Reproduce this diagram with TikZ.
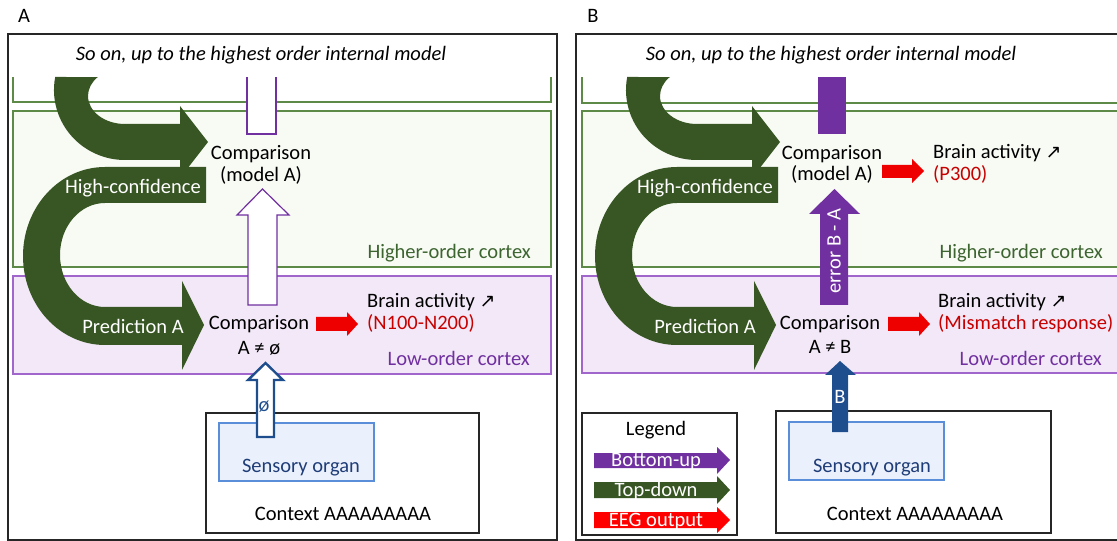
\documentclass[tikz,border=0pt]{standalone}
\usepackage{fontspec}
\setmainfont{Carlito}
\newfontfamily\symfont{DejaVu Sans}
\definecolor{dkgreen}{HTML}{375623}
\definecolor{boxgreen}{HTML}{5E8A47}
\definecolor{higherfill}{HTML}{F8FAF4}
\definecolor{lowfill}{HTML}{F2E8F7}
\definecolor{lowline}{HTML}{A066CC}
\definecolor{purp}{HTML}{7030A0}
\definecolor{txtgreen}{HTML}{3D6530}
\definecolor{arrred}{HTML}{EE0000}
\definecolor{legred}{HTML}{FF0000}
\definecolor{txtred}{HTML}{C80000}
\definecolor{blu}{HTML}{1F4E8F}
\definecolor{sensfill}{HTML}{EBF1FC}
\definecolor{sensline}{HTML}{5B8ED8}
\definecolor{senstxt}{HTML}{1F3D78}
\newcommand\myfs{\fontsize{20.5bp}{24bp}\selectfont}
\newcommand\uparr{{\symfont\fontsize{19bp}{19bp}\selectfont ↗}}
\begin{document}
\begin{tikzpicture}[x=1bp,y=-1bp,
  txt/.style={font=\myfs, inner sep=0pt, text=black},
  wtxt/.style={font=\myfs, inner sep=0pt, text=white},
  outerbox/.style={draw=black!85, line width=1.2bp},
  greenbox/.style={draw=boxgreen, line width=1.2bp},
  lowbox/.style={draw=lowline, fill=lowfill, line width=1.2bp},
  blackbox/.style={draw=black!85, line width=1.2bp, fill=white},
  sensbox/.style={draw=sensline, fill=sensfill, line width=1.2bp},
  hollowpurp/.style={draw=purp, fill=white, line width=1.2bp},
  hollowblue/.style={draw=blu, fill=white, line width=2.4bp, line join=miter},
]
\useasboundingbox (0,0) rectangle (1117,541);
\clip (0,0) rectangle (1117,541);

% ================= PANEL A =================
\node[txt, anchor=base] (labA) at (24,23) {A};
\draw[outerbox] (8,34) rectangle (557,540);
\node[txt, anchor=base, font=\myfs\itshape] (soA) at (261,61) {So on, up to the highest order internal model};
\draw[greenbox] (13,77) -- (13,102) -- (551,102) -- (551,77);
\draw[greenbox, fill=higherfill] (13,111) rectangle (551,267);
\draw[lowbox] (13,276) rectangle (551,374);

% green curved arrows
\fill[dkgreen] (55.2,77) arc[start angle=190.7, end angle=90, x radius=71, y radius=70]
  -- (180,160) -- (180,178) -- (208,142) -- (180,106) -- (180,124) -- (125,124)
  arc[start angle=90, end angle=222.7, x radius=37, y radius=28] -- cycle;
\fill[dkgreen] (206,167) -- (105,167) arc[start angle=270, end angle=90, x radius=82, y radius=89]
  -- (182,345) -- (182,370) -- (204,325) -- (182,281) -- (182,307) -- (105,307)
  arc[start angle=90, end angle=270, x radius=45, y radius=52] -- (206,203) -- cycle;

% purple hollow bars / arrow
\draw[hollowpurp] (247,77) -- (247,134) -- (276,134) -- (276,77);
\draw[hollowpurp] (248,305) -- (248,215) -- (237,215) -- (262.5,189) -- (289,215) -- (277,215) -- (277,305) -- cycle;

% red arrow
\fill[arrred] (316,317) -- (347,317) -- (347,312) -- (358,324) -- (347,336) -- (347,331) -- (316,331) -- cycle;

% context / sensory
\draw[blackbox] (206,413) rectangle (479,533);
\draw[sensbox] (219,423) rectangle (374,481);
\draw[hollowblue] (257,437) -- (257,380) -- (248,380) -- (265.5,363) -- (283,380) -- (274,380) -- (274,437) -- cycle;

% texts A
\node[txt, anchor=base] (cmpHA) at (261,159.5) {Comparison};
\node[txt, anchor=base] (modHA) at (261,182) {(model A)};
\node[wtxt, anchor=base] (hcA) at (133,193.5) {High-confidence};
\node[txt, anchor=base east, text=txtgreen] (hoA) at (531,258.5) {Higher-order cortex};
\node[wtxt, anchor=base] (prA) at (133,333.5) {Prediction A};
\node[txt, anchor=base] (cmpLA) at (259,329.5) {Comparison};
\node[txt, anchor=base] (neqA) at (259,354.5) {A ≠ ø};
\node[txt, anchor=base west] (baA) at (367,307.5) {Brain activity \uparr};
\node[txt, anchor=base west, text=txtred] (nA) at (367,330) {(N100-N200)};
\node[txt, anchor=base east, text=purp] (loA) at (530,365.5) {Low-order cortex};
\node[txt, anchor=base, text=blu] (phiA) at (264,411) {ø};
\node[txt, anchor=base, text=senstxt] (sensA) at (301,472) {Sensory organ};
\node[txt, anchor=base] (ctxA) at (343,520.5) {Context AAAAAAAAA};

% ================= PANEL B =================
\node[txt, anchor=base] (labB) at (593,23) {B};
\draw[outerbox] (576,34) rectangle (1125,540);
\node[txt, anchor=base, font=\myfs\itshape] (soB) at (831,61) {So on, up to the highest order internal model};
\draw[greenbox] (582,77) -- (582,103) -- (1120,103) -- (1120,77);
\draw[greenbox, fill=higherfill] (582,111) rectangle (1120,267);
\draw[lowbox] (582,276) rectangle (1120,373);

\begin{scope}[xshift=572bp]
\fill[dkgreen] (55.2,77) arc[start angle=190.7, end angle=90, x radius=71, y radius=70]
  -- (180,160) -- (180,178) -- (208,142) -- (180,106) -- (180,124) -- (125,124)
  arc[start angle=90, end angle=222.7, x radius=37, y radius=28] -- cycle;
\fill[dkgreen] (206,167) -- (105,167) arc[start angle=270, end angle=90, x radius=82, y radius=89]
  -- (182,345) -- (182,370) -- (204,325) -- (182,281) -- (182,307) -- (105,307)
  arc[start angle=90, end angle=270, x radius=45, y radius=52] -- (206,203) -- cycle;
\fill[purp] (246,77) rectangle (274,134);
\fill[purp] (248,305) -- (248,214) -- (237,214) -- (262.5,189) -- (288,214) -- (276,214) -- (276,305) -- cycle;
\fill[arrred] (316,317) -- (347,317) -- (347,312) -- (358,324) -- (347,336) -- (347,331) -- (316,331) -- cycle;
\fill[arrred] (310,165) -- (340,165) -- (340,159) -- (352,171) -- (340,183) -- (340,178) -- (310,178) -- cycle;
\end{scope}

\draw[blackbox] (776,411) rectangle (1051,533);
\draw[sensbox] (789,422) rectangle (944,480);
\fill[blu] (832,432) -- (832,375) -- (825,375) -- (840,361) -- (856,375) -- (848,375) -- (848,432) -- cycle;

% legend
\draw[blackbox] (582,413) rectangle (737,535);
\node[txt, anchor=base] (legT) at (656,435.5) {Legend};
\fill[purp] (594,453) -- (717,453) -- (717,447) -- (730,460) -- (717,474) -- (717,468) -- (594,468) -- cycle;
\fill[dkgreen] (594,482) -- (717,482) -- (717,476) -- (730,490) -- (717,504) -- (717,498) -- (594,498) -- cycle;
\fill[legred] (594,512) -- (717,512) -- (717,507) -- (730,520) -- (717,533) -- (717,528) -- (594,528) -- cycle;
\node[wtxt, anchor=base] (legBU) at (656,466.5) {Bottom-up};
\node[wtxt, anchor=base] (legTD) at (656,496.5) {Top-down};
\node[wtxt, anchor=base] (legEEG) at (656,526.5) {EEG output};

% texts B
\node[txt, anchor=base] (cmpHB) at (832,159.5) {Comparison};
\node[txt, anchor=base] (modHB) at (832,181) {(model A)};
\node[txt, anchor=base west] (baHB) at (933,158.5) {Brain activity \uparr};
\node[txt, anchor=base west, text=txtred] (pB) at (933,181) {(P300)};
\node[wtxt, anchor=base] (hcB) at (705,193.5) {High-confidence};
\node[txt, anchor=base east, text=txtgreen] (hoB) at (1103,258.5) {Higher-order cortex};
\node[wtxt, rotate=90] (errB) at (834,251) {error B - A};
\node[wtxt, anchor=base] (prB) at (705,333.5) {Prediction A};
\node[txt, anchor=base] (cmpLB) at (830,329.5) {Comparison};
\node[txt, anchor=base] (neqB) at (830,354) {A ≠ B};
\node[txt, anchor=base west] (baLB) at (938,307.5) {Brain activity \uparr};
\node[txt, anchor=base west, text=txtred] (mB) at (938,330) {(Mismatch response)};
\node[txt, anchor=base east, text=purp] (loB) at (1102,365.5) {Low-order cortex};
\node[wtxt, anchor=base] (bB) at (840,403) {B};
\node[txt, anchor=base, text=senstxt] (sensB) at (872,472) {Sensory organ};
\node[txt, anchor=base] (ctxB) at (915,520.5) {Context AAAAAAAAA};
\end{tikzpicture}
\end{document}
